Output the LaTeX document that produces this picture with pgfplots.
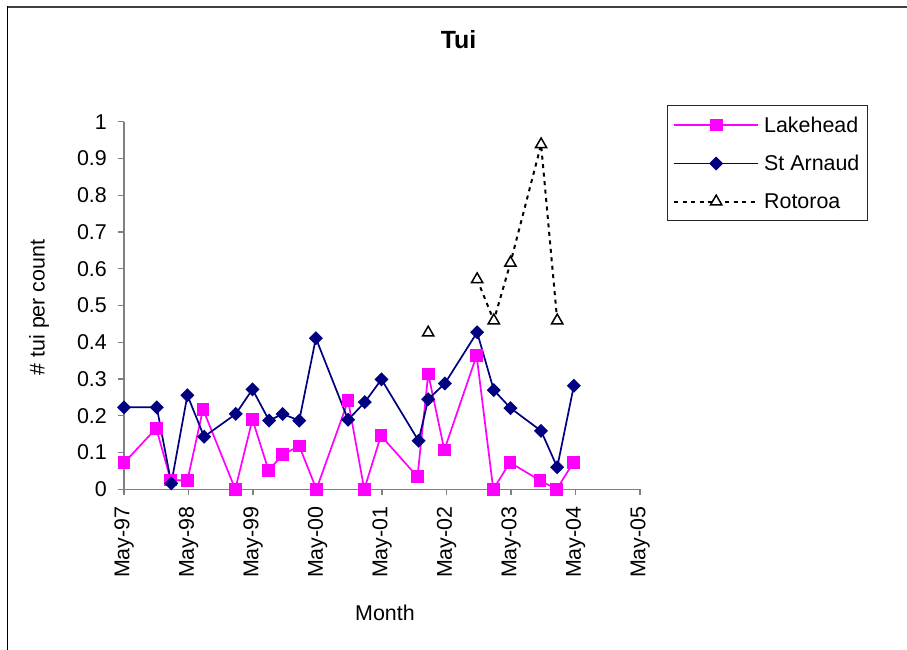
\documentclass[border=0pt]{standalone}
\usepackage{fontspec}
\setmainfont{Liberation Sans}
\usepackage{pgfplots}
\pgfplotsset{compat=1.18}
\definecolor{lake}{RGB}{255,0,255}
\definecolor{arn}{RGB}{0,0,128}
\definecolor{axgray}{RGB}{128,128,128}
\begin{document}
\begin{tikzpicture}
\useasboundingbox (0,0) rectangle (907bp,-650bp);
\fill[white] (0,0) rectangle (907bp,-650bp);
\draw[black!75, line width=2bp] (7bp,-6.5bp) -- (907bp,-6.5bp);
\draw[black, line width=1.3bp] (7.3bp,-6bp) -- (7.3bp,-650bp);
\begin{axis}[
  at={(124bp,-489.3bp)}, anchor=south west,
  scale only axis, width=516bp, height=367.6bp,
  xmin=0, xmax=96, ymin=0, ymax=1,
  axis x line=bottom, axis y line=left,
  axis line style={-, axgray, line width=1.2bp},
  every tick/.style={axgray, line width=1.2bp},
  tick align=outside, major tick length=6bp,
  xtick={0,12,24,36,48,60,72,84,96},
  xticklabels={May-97,May-98,May-99,May-00,May-01,May-02,May-03,May-04,May-05},
  ytick={0,0.1,0.2,0.3,0.4,0.5,0.6,0.7,0.8,0.9,1},
  yticklabels={0,0.1,0.2,0.3,0.4,0.5,0.6,0.7,0.8,0.9,1},
  /pgf/number format/assume math mode=true,
  tick label style={font=\fontsize{21.5}{24}\selectfont, inner sep=0pt},
  x tick label style={rotate=90, anchor=east},
  xticklabel shift=11bp, yticklabel shift=11bp,
  clip=false,
  legend style={at={(1.0517,1.0454)}, anchor=north west, draw=black!85, line width=1bp,
    inner xsep=6bp, inner ysep=9bp, font=\fontsize{21.5}{24}\selectfont, row sep=17.5bp, column sep=3bp},
  legend cell align=left,
  legend image code/.code={\draw[mark repeat=2,mark phase=2,#1] plot coordinates {(0bp,0bp)(42bp,0bp)(84bp,0bp)};},
]
\addplot[lake, line width=1.7bp, mark=square*, mark size=5.5bp, mark options={solid}] coordinates {
(0,0.072) (6,0.166) (8.7,0.025) (11.8,0.024) (14.7,0.218) (20.7,0) (23.9,0.19)
(26.9,0.051) (29.5,0.094) (32.6,0.118) (35.8,0) (41.7,0.241) (44.7,0) (47.8,0.146)
(54.6,0.034) (56.6,0.314) (59.6,0.107) (65.6,0.364) (68.7,0) (71.8,0.073)
(77.4,0.024) (80.5,0) (83.6,0.073)};
\addlegendentry{Lakehead}
\addplot[arn, line width=1.7bp, mark=square*, mark size=4.1bp, mark options={solid, rotate=45}] coordinates {
(0,0.223) (6.1,0.223) (8.8,0.016) (11.8,0.256) (14.9,0.143) (20.8,0.205) (23.9,0.272)
(27,0.187) (29.5,0.205) (32.6,0.187) (35.7,0.411) (41.7,0.189) (44.8,0.237) (47.9,0.299)
(54.8,0.132) (56.6,0.245) (59.7,0.288) (65.7,0.427) (68.8,0.270) (71.9,0.221)
(77.6,0.159) (80.6,0.06) (83.7,0.282)};
\addlegendentry{St Arnaud}
\addplot[black, line width=2bp, dash pattern=on 4bp off 4.5bp, mark=triangle*, mark size=6.5bp,
  mark options={solid, fill=white, draw=black, line width=1.5bp}, unbounded coords=jump] coordinates {
(56.6,0.426) (59.7,nan) (65.7,0.571) (68.8,0.459) (71.9,0.616) (77.6,0.938) (80.6,0.459)};
\addlegendentry{Rotoroa}
\end{axis}
\node[font=\bfseries\fontsize{25}{28}\selectfont] at (458.5bp,-40bp) {Tui};
\node[font=\fontsize{21.5}{24}\selectfont] at (385bp,-613bp) {Month};
\node[font=\fontsize{21.5}{24}\selectfont, rotate=90] at (39bp,-307.5bp) {\# tui per count};
\end{tikzpicture}
\end{document}
